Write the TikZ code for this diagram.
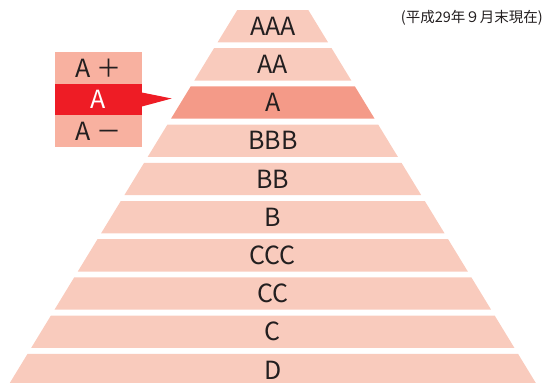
\documentclass[tikz,border=0pt]{standalone}
\usepackage{fontspec}
\setmainfont{Noto Sans CJK JP}
\definecolor{bandc}{HTML}{F9CBBD}
\definecolor{banddark}{HTML}{F49A88}
\definecolor{cellc}{HTML}{F8B1A0}
\definecolor{redc}{HTML}{EE1C25}
\definecolor{txt}{HTML}{231F20}
\tikzset{
  lbl/.style={font=\fontsize{25}{25}\selectfont, text=txt, inner sep=0pt},
  cell/.style={minimum width=86.7pt, minimum height=31.5pt, inner sep=0pt, font=\fontsize{25}{25}\selectfont, text=txt},
}
\begin{document}
\begin{tikzpicture}[x=1pt,y=-1pt]
\useasboundingbox (0,0) rectangle (544,383);
\begin{scope}
\clip (0,0) rectangle (544,383);
\foreach \i/\name/\col in {0/AAA/bandc,1/AA/bandc,2/A/banddark,3/BBB/bandc,4/BB/bandc,5/B/bandc,6/CCC/bandc,7/CC/bandc,8/C/bandc,9/D/bandc}{
  \pgfmathsetmacro{\myT}{10+38.2*\i}
  \pgfmathsetmacro{\myB}{\myT+32.3}
  \pgfmathsetmacro{\myHT}{35.5+0.61*(\myT-10)}
  \pgfmathsetmacro{\myHB}{35.5+0.61*(\myB-10)}
  \pgfmathsetmacro{\myM}{(\myT+\myB)/2}
  \fill[\col] (272.8-\myHT,\myT) -- (272.8+\myHT,\myT) -- (272.8+\myHB,\myB) -- (272.8-\myHB,\myB) -- cycle;
  \node[lbl] (band\i) at (272.8,\myM) {\name};
}
\end{scope}
\node[cell, fill=cellc] (aplus) at (98.35,68) {A ＋};
\node[cell, fill=redc, text=white] (ared) at (98.35,99.5) {A};
\node[cell, fill=cellc] (aminus) at (98.35,131) {A －};
\coordinate (tip) at (171.7,98.5);
\fill[redc] ([yshift=7pt]ared.east) -- (tip) -- ([yshift=-7pt]ared.east) -- cycle;
\node[anchor=east, inner sep=0pt, font=\fontsize{14.5}{14.5}\selectfont, text=txt] (note) at (543,17.5) {(平成29年９月末現在)};
\end{tikzpicture}
\end{document}
